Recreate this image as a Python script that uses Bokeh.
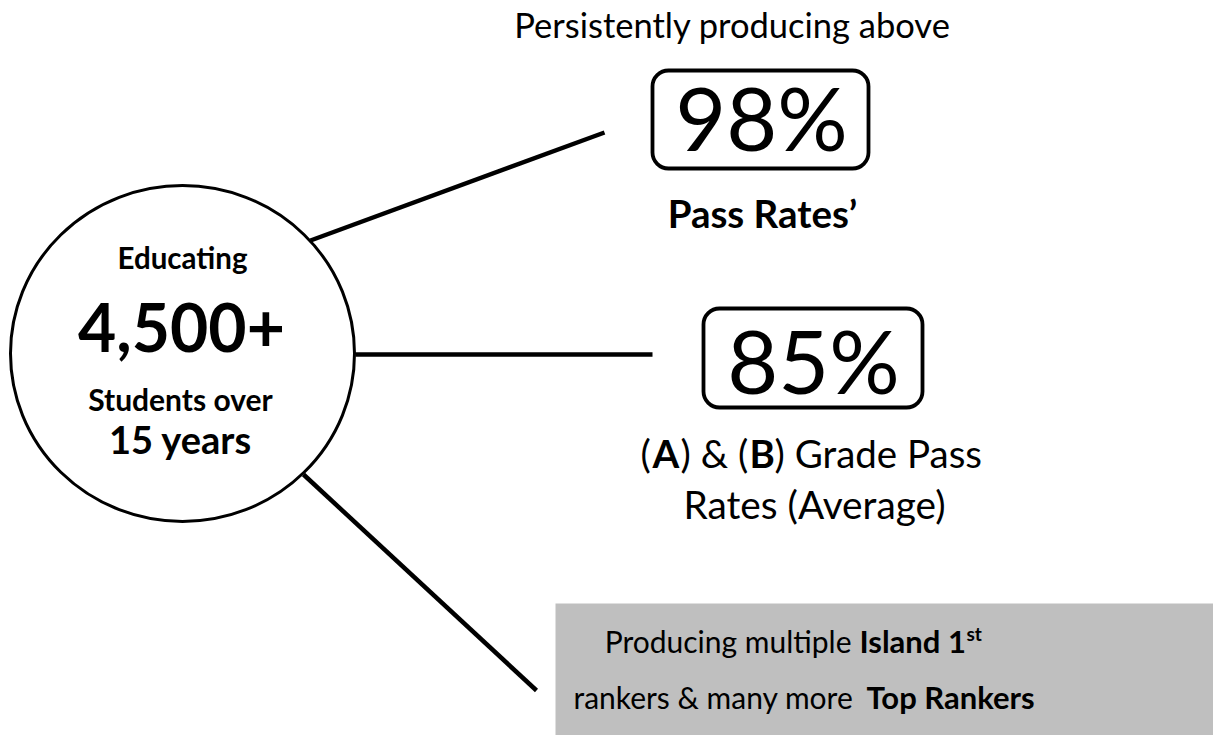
from bokeh.plotting import figure
from bokeh.models import Range1d, BoxAnnotation
from bokeh.core.properties import value
from bokeh.embed import file_html
from bokeh.resources import INLINE

FONT = "Lato"

# ---- content ----
students_lines = ["Educating", "4,500+", "Students over", "15 years"]
header_text = "Persistently producing above"
stat_values = ["98%", "85%"]
stat1_caption = "Pass Rates\u2019"
stat2_caption_line1 = ["(", "A", ") & (", "B", ") Grade Pass"]
stat2_caption_bold = [False, True, False, True, False]
stat2_caption_line2 = "Rates (Average)"
ranker_line1 = ["Producing multiple", "Island 1", "st"]
ranker_line2 = ["rankers & many more", "Top Rankers"]

W, H = 1213, 735
p = figure(width=W, height=H, x_range=Range1d(0, W), y_range=Range1d(H, 0),
           output_backend="svg", toolbar_location=None, min_border=0)
p.axis.visible = False
p.grid.visible = False
p.outline_line_color = None
p.background_fill_color = "white"
p.border_fill_color = "white"

BASE_SHIFT = 0.38  # compensates the renderer's baseline placement


def txt(x, y, s, size, bold=False, align="center"):
    p.text(x=[x], y=[y - BASE_SHIFT * size], text=[s], text_font=value(FONT),
           text_font_size=value(f"{size}px"),
           text_font_style="bold" if bold else "normal", text_align=align,
           text_baseline="alphabetic", text_color="black")


# grey ranker box
p.quad(left=[555], right=[1213], top=[603], bottom=[735], fill_color="#bfbfbf", line_color=None)

# connectors
p.segment(x0=[310, 355, 303], y0=[240, 354, 474], x1=[604, 652, 536], y1=[132, 354, 690],
          line_color="black", line_width=4.5)

# circle
p.ellipse(x=[182], y=[353], width=[344], height=[336], fill_color="white",
          line_color="black", line_width=3)

# circle text
txt(182, 268, students_lines[0], 29.5, True)
txt(181, 352, students_lines[1], 66, True)
txt(180, 410, students_lines[2], 30, True)
txt(180, 453, students_lines[3], 38, True)

# header
txt(732, 37, header_text, 34.5)

# stat boxes
for l, r, t, b in [(652, 868, 70, 168), (703, 922, 308, 407)]:
    p.add_layout(BoxAnnotation(left=l, right=r, top=t, bottom=b, fill_alpha=0,
                               line_color="black", line_alpha=1, line_width=3.8,
                               border_radius=16, level="underlay"))
txt(761, 150, stat_values[0], 88)
txt(813, 393, stat_values[1], 88)

txt(762, 227, stat1_caption, 38.5, True)

# (A) & (B) Grade Pass
seg_x = [640, 652, 680, 749, 774]
for i, (s, b) in enumerate(zip(stat2_caption_line1, stat2_caption_bold)):
    txt(seg_x[i], 467, s, 38.5, b, align="left")
txt(814, 518, stat2_caption_line2, 38.8)

# ranker box text
txt(851, 652, ranker_line1[0], 30, False, align="right")
txt(859, 652, ranker_line1[1], 31, True, align="left")
txt(966, 640, ranker_line1[2], 19, True, align="left")
txt(853, 708, ranker_line2[0], 30, False, align="right")
txt(866, 708, ranker_line2[1], 31, True, align="left")

open("out.html", "w").write(file_html(p, INLINE))
